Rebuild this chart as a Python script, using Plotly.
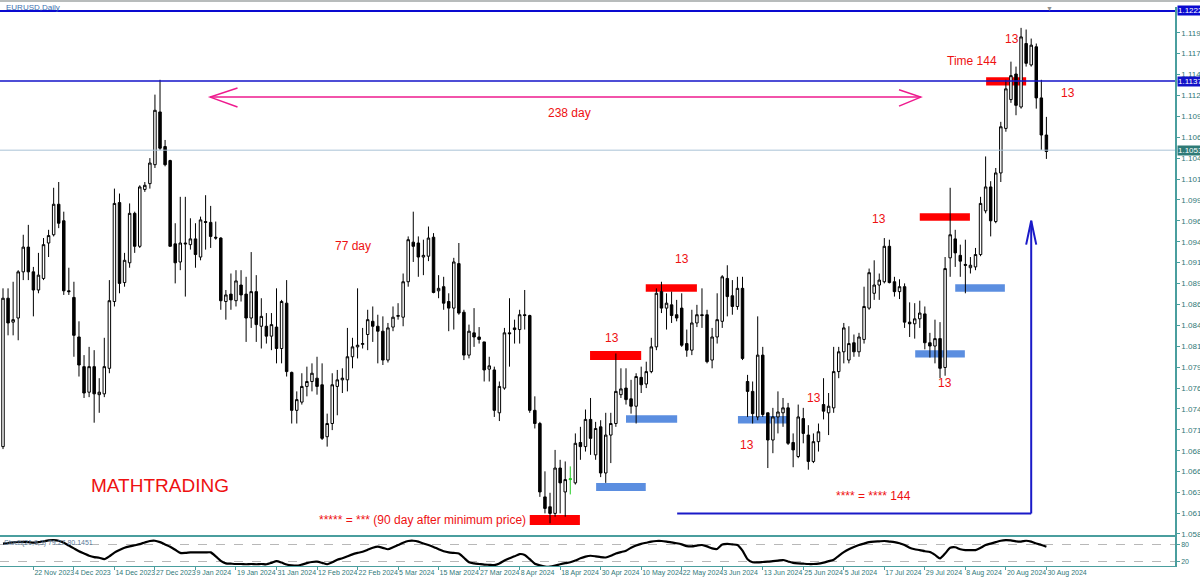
import plotly.graph_objects as go
import pandas as pd

# ---------------- data ----------------
holidays = ["2023-12-25", "2024-01-01"]
dates = [d.strftime("%Y-%m-%d") for d in pd.bdate_range("2023-11-14", "2024-08-30")
         if d.strftime("%Y-%m-%d") not in holidays]

opens = [
    1.0694, 1.0874, 1.0845, 1.0850, 1.0906, 1.0936, 1.0906, 1.0884, 1.0898, 1.0941,
    1.0951, 1.0988, 1.0968, 1.0883, 1.0875, 1.0827, 1.0791, 1.0760, 1.0791, 1.0757,
    1.0758, 1.0789, 1.0870, 1.0990, 1.0893, 1.0917, 1.0977, 1.0937, 1.1006, 1.1013,
    1.1036, 1.1100, 1.1058, 1.1041, 1.0940, 1.0918, 1.0941, 1.0939, 1.0946, 1.0924,
    1.0967, 1.0966, 1.0948, 1.0947, 1.0870, 1.0879, 1.0871, 1.0890, 1.0879, 1.0850,
    1.0882, 1.0840, 1.0840, 1.0828, 1.0839, 1.0813, 1.0868, 1.0784, 1.0738, 1.0748,
    1.0767, 1.0773, 1.0777, 1.0769, 1.0706, 1.0722, 1.0767, 1.0775, 1.0775, 1.0803,
    1.0815, 1.0818, 1.0830, 1.0846, 1.0840, 1.0834, 1.0799, 1.0839, 1.0852, 1.0851,
    1.0894, 1.0942, 1.0941, 1.0924, 1.0925, 1.0948, 1.0883, 1.0888, 1.0870, 1.0862,
    1.0916, 1.0857, 1.0805, 1.0832, 1.0827, 1.0821, 1.0788, 1.0787, 1.0735, 1.0765,
    1.0832, 1.0838, 1.0836, 1.0854, 1.0853, 1.0738, 1.0722, 1.0633, 1.0621, 1.0613,
    1.0668, 1.0639, 1.0654, 1.0650, 1.0699, 1.0694, 1.0727, 1.0684, 1.0718, 1.0662,
    1.0708, 1.0722, 1.0757, 1.0765, 1.0752, 1.0743, 1.0778, 1.0770, 1.0785, 1.0815,
    1.0882, 1.0862, 1.0866, 1.0854, 1.0862, 1.0819, 1.0811, 1.0844, 1.0854, 1.0854,
    1.0799, 1.0827, 1.0846, 1.0898, 1.0877, 1.0864, 1.0886, 1.0773, 1.0761, 1.0730,
    1.0805, 1.0735, 1.0702, 1.0730, 1.0735, 1.0741, 1.0699, 1.0682, 1.0728, 1.0708,
    1.0676, 1.0700, 1.0745, 1.0735, 1.0741, 1.0785, 1.0809, 1.0799, 1.0820, 1.0809,
    1.0824, 1.0862, 1.0880, 1.0890, 1.0894, 1.0937, 1.0894, 1.0882, 1.0888, 1.0845,
    1.0843, 1.0849, 1.0855, 1.0820, 1.0816, 1.0825, 1.0790, 1.0923, 1.0946, 1.0926,
    1.0915, 1.0911, 1.0912, 1.0927, 1.0980, 1.1009, 1.0967, 1.1026, 1.1080, 1.1115,
    1.1146, 1.1106, 1.1183, 1.1157, 1.1179, 1.1117, 1.1072,
]
highs = [
    1.0886, 1.0886, 1.0894, 1.0908, 1.0951, 1.0963, 1.0912, 1.0929, 1.0947, 1.0957,
    1.1008, 1.1015, 1.0979, 1.0911, 1.0894, 1.0846, 1.0805, 1.0815, 1.0811, 1.0777,
    1.0826, 1.0896, 1.1007, 1.1001, 1.0929, 1.0989, 1.0979, 1.1011, 1.1015, 1.1044,
    1.1121, 1.1139, 1.1066, 1.1042, 1.0965, 1.0997, 1.0997, 1.0971, 1.0965, 1.0973,
    1.0999, 1.0986, 1.0967, 1.0948, 1.0884, 1.0904, 1.0908, 1.0908, 1.0900, 1.0930,
    1.0902, 1.0874, 1.0856, 1.0856, 1.0886, 1.0872, 1.0896, 1.0785, 1.0761, 1.0783,
    1.0791, 1.0795, 1.0803, 1.0795, 1.0734, 1.0783, 1.0787, 1.0789, 1.0838, 1.0826,
    1.0886, 1.0838, 1.0860, 1.0864, 1.0854, 1.0852, 1.0844, 1.0864, 1.0868, 1.0904,
    1.0949, 1.0979, 1.0949, 1.0945, 1.0961, 1.0953, 1.0902, 1.0900, 1.0880, 1.0923,
    1.0941, 1.0860, 1.0842, 1.0862, 1.0839, 1.0821, 1.0803, 1.0791, 1.0773, 1.0838,
    1.0874, 1.0848, 1.0860, 1.0884, 1.0854, 1.0755, 1.0724, 1.0664, 1.0638, 1.0690,
    1.0678, 1.0676, 1.0670, 1.0710, 1.0718, 1.0739, 1.0753, 1.0724, 1.0726, 1.0735,
    1.0735, 1.0807, 1.0789, 1.0789, 1.0775, 1.0783, 1.0791, 1.0797, 1.0826, 1.0886,
    1.0894, 1.0880, 1.0882, 1.0872, 1.0880, 1.0836, 1.0860, 1.0866, 1.0886, 1.0860,
    1.0838, 1.0880, 1.0902, 1.0914, 1.0896, 1.0900, 1.0900, 1.0781, 1.0773, 1.0852,
    1.0815, 1.0735, 1.0741, 1.0761, 1.0753, 1.0747, 1.0710, 1.0745, 1.0741, 1.0720,
    1.0710, 1.0722, 1.0777, 1.0759, 1.0815, 1.0815, 1.0844, 1.0840, 1.0830, 1.0832,
    1.0888, 1.0910, 1.0920, 1.0904, 1.0947, 1.0945, 1.0900, 1.0897, 1.0892, 1.0869,
    1.0868, 1.0871, 1.0864, 1.0832, 1.0848, 1.0845, 1.0924, 1.1008, 1.0957, 1.0939,
    1.0945, 1.0924, 1.0935, 1.0997, 1.1046, 1.1016, 1.1032, 1.1088, 1.1139, 1.1161,
    1.1155, 1.1202, 1.1200, 1.1189, 1.1183, 1.1139, 1.1094,
]
lows = [
    1.0691, 1.0829, 1.0829, 1.0823, 1.0896, 1.0896, 1.0852, 1.0880, 1.0896, 1.0924,
    1.0949, 1.0959, 1.0878, 1.0878, 1.0803, 1.0779, 1.0753, 1.0754, 1.0723, 1.0735,
    1.0754, 1.0783, 1.0864, 1.0880, 1.0888, 1.0911, 1.0929, 1.0935, 1.1003, 1.1007,
    1.1032, 1.1054, 1.1034, 1.0937, 1.0892, 1.0908, 1.0876, 1.0933, 1.0911, 1.0920,
    1.0933, 1.0935, 1.0945, 1.0860, 1.0848, 1.0860, 1.0864, 1.0870, 1.0821, 1.0838,
    1.0821, 1.0813, 1.0819, 1.0811, 1.0795, 1.0795, 1.0779, 1.0722, 1.0722, 1.0745,
    1.0755, 1.0761, 1.0757, 1.0702, 1.0694, 1.0714, 1.0732, 1.0759, 1.0761, 1.0789,
    1.0801, 1.0813, 1.0811, 1.0821, 1.0795, 1.0793, 1.0796, 1.0834, 1.0848, 1.0840,
    1.0888, 1.0918, 1.0900, 1.0902, 1.0919, 1.0880, 1.0874, 1.0860, 1.0834, 1.0836,
    1.0854, 1.0799, 1.0801, 1.0815, 1.0819, 1.0773, 1.0773, 1.0730, 1.0725, 1.0763,
    1.0791, 1.0819, 1.0819, 1.0836, 1.0735, 1.0716, 1.0633, 1.0613, 1.0601, 1.0609,
    1.0613, 1.0609, 1.0636, 1.0648, 1.0678, 1.0688, 1.0684, 1.0678, 1.0657, 1.0650,
    1.0674, 1.0718, 1.0753, 1.0745, 1.0734, 1.0722, 1.0759, 1.0765, 1.0783, 1.0811,
    1.0856, 1.0836, 1.0844, 1.0846, 1.0815, 1.0803, 1.0805, 1.0839, 1.0838, 1.0795,
    1.0789, 1.0819, 1.0838, 1.0852, 1.0854, 1.0860, 1.0799, 1.0730, 1.0722, 1.0726,
    1.0730, 1.0668, 1.0686, 1.0710, 1.0718, 1.0696, 1.0669, 1.0680, 1.0698, 1.0666,
    1.0674, 1.0688, 1.0727, 1.0708, 1.0735, 1.0777, 1.0795, 1.0795, 1.0803, 1.0803,
    1.0819, 1.0860, 1.0872, 1.0872, 1.0892, 1.0892, 1.0876, 1.0873, 1.0838, 1.0827,
    1.0825, 1.0838, 1.0812, 1.0802, 1.0795, 1.0777, 1.0780, 1.0900, 1.0912, 1.0900,
    1.0880, 1.0904, 1.0908, 1.0925, 1.0977, 1.0949, 1.0965, 1.1015, 1.1076, 1.1111,
    1.1096, 1.1104, 1.1155, 1.1155, 1.1104, 1.1054, 1.1043,
]
closes = [
    1.0874, 1.0844, 1.0848, 1.0906, 1.0936, 1.0906, 1.0884, 1.0902, 1.0939, 1.0950,
    1.0988, 1.0965, 1.0883, 1.0882, 1.0829, 1.0793, 1.0759, 1.0791, 1.0758, 1.0760,
    1.0791, 1.0871, 1.0989, 1.0892, 1.0920, 1.0977, 1.0937, 1.1009, 1.1011, 1.1038,
    1.1102, 1.1056, 1.1036, 1.0937, 1.0917, 1.0941, 1.0940, 1.0946, 1.0927, 1.0969,
    1.0966, 1.0949, 1.0947, 1.0871, 1.0878, 1.0872, 1.0895, 1.0878, 1.0850, 1.0882,
    1.0842, 1.0852, 1.0828, 1.0842, 1.0813, 1.0870, 1.0785, 1.0738, 1.0751, 1.0767,
    1.0773, 1.0783, 1.0767, 1.0704, 1.0722, 1.0769, 1.0775, 1.0777, 1.0803, 1.0815,
    1.0817, 1.0819, 1.0848, 1.0840, 1.0834, 1.0799, 1.0838, 1.0851, 1.0853, 1.0894,
    1.0945, 1.0937, 1.0924, 1.0926, 1.0947, 1.0881, 1.0886, 1.0868, 1.0862, 1.0918,
    1.0856, 1.0805, 1.0834, 1.0827, 1.0824, 1.0787, 1.0792, 1.0738, 1.0767, 1.0832,
    1.0831, 1.0836, 1.0854, 1.0853, 1.0738, 1.0722, 1.0639, 1.0619, 1.0613, 1.0668,
    1.0650, 1.0654, 1.0655, 1.0698, 1.0694, 1.0727, 1.0704, 1.0716, 1.0662, 1.0708,
    1.0722, 1.0761, 1.0764, 1.0751, 1.0743, 1.0779, 1.0769, 1.0785, 1.0815, 1.0880,
    1.0862, 1.0868, 1.0853, 1.0850, 1.0817, 1.0811, 1.0844, 1.0854, 1.0853, 1.0797,
    1.0827, 1.0848, 1.0900, 1.0876, 1.0864, 1.0886, 1.0801, 1.0761, 1.0734, 1.0805,
    1.0733, 1.0702, 1.0730, 1.0736, 1.0741, 1.0698, 1.0690, 1.0730, 1.0710, 1.0676,
    1.0700, 1.0712, 1.0737, 1.0743, 1.0785, 1.0809, 1.0838, 1.0819, 1.0809, 1.0827,
    1.0864, 1.0905, 1.0890, 1.0896, 1.0937, 1.0893, 1.0882, 1.0888, 1.0845, 1.0843,
    1.0849, 1.0856, 1.0820, 1.0816, 1.0825, 1.0789, 1.0910, 1.0951, 1.0929, 1.0919,
    1.0914, 1.0914, 1.0927, 1.0989, 1.1009, 1.0968, 1.1026, 1.1082, 1.1128, 1.1144,
    1.1108, 1.1191, 1.1159, 1.1181, 1.1117, 1.1072, 1.1052,
]
# oscillator in the lower panel (0..100)
oscillator = [
    85, 87, 89, 91, 91, 90, 88, 90, 93, 96, 97, 95, 88, 78, 68, 58, 50, 42, 37, 35,
    30, 40, 53, 62, 70, 75, 79, 83, 89, 94, 95, 90, 82, 74, 63, 52, 52, 54, 54, 54,
    54, 54, 40, 24, 15, 14, 13, 13, 12, 13, 12, 13, 12, 17, 23, 18, 11, 8, 7, 11,
    16, 20, 21, 17, 12, 19, 28, 33, 40, 47, 52, 56, 63, 70, 74, 70, 65, 72, 80, 88,
    94, 95, 92, 85, 80, 73, 65, 58, 54, 52, 50, 35, 19, 15, 13, 11, 10, 9, 15, 25,
    33, 40, 48, 45, 30, 14, 8, 4, 3.5, 7, 12, 16, 19, 25, 33, 39, 42, 40, 37, 36,
    42, 50, 55, 60, 70, 78, 84, 88, 92, 94, 94, 92, 89, 86, 82, 76, 75, 78, 80, 75,
    68, 66, 82, 84, 82, 80, 60, 30, 19, 19, 20, 21, 23, 25, 27, 22, 17, 15, 14, 13,
    13, 14, 18, 23, 28, 42, 55, 65, 73, 80, 85, 90, 92, 93, 94, 92, 90, 86, 80, 70,
    65, 62, 58, 55, 45, 33, 50, 70, 72, 65, 62, 62, 62, 70, 80, 85, 90, 95, 97, 96,
    93, 92, 95, 92, 85, 80, 74,
]
green_bars = ["2024-04-22"]

tick_dates = ["2023-11-22", "2023-12-04", "2023-12-14", "2023-12-27", "2024-01-09",
              "2024-01-19", "2024-01-31", "2024-02-12", "2024-02-22", "2024-03-05",
              "2024-03-15", "2024-03-27", "2024-04-08", "2024-04-18", "2024-04-30",
              "2024-05-10", "2024-05-22", "2024-06-03", "2024-06-13", "2024-06-25",
              "2024-07-05", "2024-07-17", "2024-07-29", "2024-08-08", "2024-08-20",
              "2024-08-30"]
price_ticks = [1.11960, 1.11710, 1.11455, 1.11200, 1.10950, 1.10695, 1.10440, 1.10185,
               1.09935, 1.09680, 1.09425, 1.09175, 1.08920, 1.08665, 1.08415, 1.08160,
               1.07905, 1.07650, 1.07400, 1.07145, 1.06890, 1.06640, 1.06385, 1.06130,
               1.05880]
level_top = 1.12225
level_high = 1.11375
level_last = 1.10536

# drawn objects (bar position, price)
red_boxes = [(104.0, 113.9, 1.0599, 1.0611), (115.9, 126.0, 1.0799, 1.0810),
             (126.9, 137.0, 1.0882, 1.0891), (181.0, 190.9, 1.0968, 1.0977),
             (194.1, 202.0, 1.1132, 1.1142)]
blue_boxes = [(117.1, 126.9, 1.0640, 1.0650), (123.0, 133.1, 1.0723, 1.0732),
              (145.1, 155.2, 1.0722, 1.0731), (180.1, 189.9, 1.0802, 1.0811),
              (188.0, 197.8, 1.0882, 1.0891)]
red_texts = [("238 day", 111.9, 1.10987), ("77 day", 69.1, 1.09374),
             ("13", 120.2, 1.08258), ("13", 134.1, 1.09216), ("13", 172.9, 1.09702),
             ("13", 160.1, 1.07530), ("13", 146.9, 1.06960), ("13", 186.0, 1.07712),
             ("13", 199.2, 1.11885), ("13", 210.3, 1.11230), ("Time 144", 191.3, 1.11618),
             ("***** = *** (90 day after minimum price)", 82.9, 1.06050),
             ("**** = **** 144", 171.8, 1.06342)]

# ---------------- figure ----------------
TEAL = "#4a9e9e"
TEAL_TXT = "#2f7878"
AXFONT = "Liberation Sans Narrow, Liberation Sans, Arial"
fig = go.Figure()

idx_main = [i for i, d in enumerate(dates) if d not in green_bars]
idx_green = [i for i, d in enumerate(dates) if d in green_bars]

fig.add_trace(go.Candlestick(
    x=[dates[i] for i in idx_main], open=[opens[i] for i in idx_main],
    high=[highs[i] for i in idx_main], low=[lows[i] for i in idx_main],
    close=[closes[i] for i in idx_main],
    increasing=dict(line=dict(color="black", width=1), fillcolor="white"),
    decreasing=dict(line=dict(color="black", width=1), fillcolor="black"),
    whiskerwidth=0, xaxis="x", yaxis="y", showlegend=False))
fig.add_trace(go.Candlestick(
    x=[dates[i] for i in idx_green], open=[opens[i] for i in idx_green],
    high=[highs[i] for i in idx_green], low=[lows[i] for i in idx_green],
    close=[closes[i] for i in idx_green],
    increasing=dict(line=dict(color="#22cc22", width=1), fillcolor="#22cc22"),
    decreasing=dict(line=dict(color="#22cc22", width=1), fillcolor="#22cc22"),
    whiskerwidth=0, xaxis="x", yaxis="y", showlegend=False))
fig.add_trace(go.Scatter(x=dates, y=oscillator, mode="lines",
                         line=dict(color="black", width=2.2, shape="spline", smoothing=0.6),
                         xaxis="x2", yaxis="y2", showlegend=False, hoverinfo="skip"))

shapes = []
# horizontal levels
shapes.append(dict(type="line", xref="x domain", yref="y", x0=0, x1=1, y0=level_top, y1=level_top,
                   line=dict(color="#0a0ad0", width=2)))
shapes.append(dict(type="line", xref="x domain", yref="y", x0=0, x1=1, y0=level_high, y1=level_high,
                   line=dict(color="#1212c8", width=1.5)))
shapes.append(dict(type="line", xref="x domain", yref="y", x0=0, x1=1, y0=level_last, y1=level_last,
                   line=dict(color="#a9c2d6", width=1)))
for x0, x1, y0, y1 in red_boxes:
    shapes.append(dict(type="rect", xref="x", yref="y", x0=x0, x1=x1, y0=y0, y1=y1,
                       fillcolor="#ff0000", line=dict(width=0), layer="below"))
for x0, x1, y0, y1 in blue_boxes:
    shapes.append(dict(type="rect", xref="x", yref="y", x0=x0, x1=x1, y0=y0, y1=y1,
                       fillcolor="#5b8ee0", line=dict(width=0), layer="below"))
# pink double arrow (238 day)
PINK = "#ee1a8e"
pa_y = 1.1118
shapes.append(dict(type="line", xref="x", yref="y", x0=40.9, x1=181.2, y0=pa_y, y1=pa_y,
                   line=dict(color=PINK, width=1.5)))
shapes.append(dict(type="path", xref="x", yref="y",
                   path=f"M 46.3,1.1129 L 40.9,{pa_y} L 46.3,1.1106",
                   line=dict(color=PINK, width=1.5)))
shapes.append(dict(type="path", xref="x", yref="y",
                   path=f"M 176.9,1.1127 L 181.2,{pa_y} L 176.9,1.1107",
                   line=dict(color=PINK, width=1.5)))
# blue time arrow (144)
BLUE = "#1a1ac8"
shapes.append(dict(type="line", xref="x", yref="y", x0=133.1, x1=203.0, y0=1.06129, y1=1.06129,
                   line=dict(color=BLUE, width=2)))
shapes.append(dict(type="line", xref="x", yref="y", x0=203.0, x1=203.0, y0=1.06129, y1=1.0968,
                   line=dict(color=BLUE, width=2)))
shapes.append(dict(type="path", xref="x", yref="y",
                   path="M 202.0,1.0939 L 203.0,1.0968 L 204.0,1.0939",
                   line=dict(color=BLUE, width=2)))
# top gray strip
shapes.append(dict(type="rect", xref="paper", yref="paper", x0=0, x1=1.03, y0=1.009, y1=1.0125,
                   fillcolor="#b8bcbc", line=dict(width=0)))

annotations = []
for txt, x, y in red_texts:
    annotations.append(dict(text=txt, x=x, y=y, xref="x", yref="y", showarrow=False,
                            font=dict(family="Liberation Sans, Arial", size=12, color="#ee1111")))
annotations.append(dict(text="MATHTRADING", x=31.0, y=1.06463, xref="x", yref="y", showarrow=False,
                        font=dict(family="Liberation Sans, Arial", size=19, color="#ee1111")))
for val, bg in [(level_top, "#0a0ad0"), (level_high, "#1212c8"), (level_last, "#2e7a76")]:
    annotations.append(dict(text=f"{val:.5f}", x=1.0015, y=val, xref="paper", yref="y",
                            xanchor="left", yanchor="middle", showarrow=False, bgcolor=bg,
                            borderpad=0, font=dict(family=AXFONT, size=8, color="white")))
annotations.append(dict(text="EURUSD,Daily", x=0.003, y=1.0, xref="paper", yref="paper",
                        xanchor="left", yanchor="middle", showarrow=False,
                        font=dict(family=AXFONT, size=8, color="#4070b0")))
annotations.append(dict(text="▼", x=0.898, y=1.009, xref="paper", yref="paper",
                        showarrow=False, font=dict(size=7, color="#909090")))
annotations.append(dict(text="Stoch(21,9,3) 79.27 80.1451", x=0.002, y=1.0, xref="x2 domain",
                        yref="y2 domain", xanchor="left", yanchor="top", showarrow=False,
                        font=dict(family=AXFONT, size=7, color="#5a7a9a")))

tick_text = [pd.Timestamp(d).strftime("%-d %b %Y") for d in tick_dates]

fig.update_layout(
    width=1200, height=578, margin=dict(l=0, r=25, t=7, b=12, autoexpand=False),
    paper_bgcolor="white", plot_bgcolor="white", showlegend=False,
    shapes=shapes, annotations=annotations,
    xaxis=dict(type="category", categoryorder="array", categoryarray=dates,
               range=[-0.592, 231.39], anchor="y", showticklabels=False, ticks="",
               showgrid=False, zeroline=False, rangeslider=dict(visible=False),
               showline=True, linecolor=TEAL, linewidth=1.5, automargin=False),
    yaxis=dict(domain=[0.0555, 1], range=[1.05868, 1.12273], side="right", anchor="x",
               tickmode="array", tickvals=price_ticks, ticktext=[f"{v:.5f}" for v in price_ticks],
               ticks="outside", ticklen=3, tickcolor=TEAL, automargin=False,
               tickfont=dict(family=AXFONT, size=8, color=TEAL_TXT),
               showgrid=False, zeroline=False, showline=True, linecolor=TEAL, linewidth=1.5),
    xaxis2=dict(type="category", matches="x", anchor="y2", tickmode="array",
                tickvals=tick_dates, ticktext=tick_text, ticks="outside", ticklen=3,
                tickcolor=TEAL, ticklabelposition="outside right", tickangle=0,
                tickfont=dict(family=AXFONT, size=7, color=TEAL_TXT), automargin=False,
                showline=True, linecolor=TEAL, linewidth=1, mirror=True, showgrid=False,
                zeroline=False, rangeslider=dict(visible=False)),
    yaxis2=dict(domain=[0, 0.0519], range=[5.9, 108.2], side="right", anchor="x2",
                tickmode="array", tickvals=[20, 80], ticktext=["20", "80"],
                ticks="outside", ticklen=3, tickcolor=TEAL, automargin=False,
                tickfont=dict(family=AXFONT, size=7, color=TEAL_TXT),
                showgrid=True, gridcolor="#b8b8b8", griddash="dash", gridwidth=1,
                zeroline=False, showline=True, linecolor=TEAL, linewidth=1.5),
)

fig.write_html("out.html", config={"displayModeBar": False},
               post_script="document.body.style.margin='0';document.body.style.overflow='hidden';")
